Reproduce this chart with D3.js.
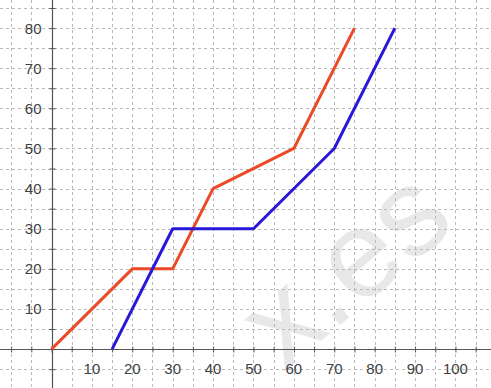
<!DOCTYPE html>
<html>
<head>
<meta charset="utf-8">
<script src="https://cdn.jsdelivr.net/npm/d3@7"></script>
<style>
  html, body { margin: 0; padding: 0; background: #fff; }
  svg { display: block; }
</style>
</head>
<body>
<svg id="chart" width="491" height="388"></svg>
<script>
// Two piecewise-linear series plotted on a Cartesian grid
const redX = [0, 20, 30, 40, 60, 75];
const redY = [0, 20, 20, 40, 50, 80];
const blueX = [15, 30, 50, 70, 85];
const blueY = [0, 30, 30, 50, 80];
const xTickLabels = [10, 20, 30, 40, 50, 60, 70, 80, 90, 100];
const yTickLabels = [10, 20, 30, 40, 50, 60, 70, 80];

const W = 491, H = 388;
const svg = d3.select("#chart");

// origin near (51.5, 349), about 4 px per unit on both axes
const x = d3.scaleLinear().domain([-12.75, 108.8]).range([0, W]);
const y = d3.scaleLinear().domain([-9.7, 87.0]).range([H, 0]);

// faint watermark, drawn beneath the grid
svg.append("text")
  .attr("transform", "translate(284,372) rotate(-40)")
  .attr("font-family", "Arial, 'Liberation Sans', sans-serif")
  .attr("font-size", 124)
  .attr("fill", "#e8e8e8")
  .text("x.es");

// grid every 5 units
const gridX = d3.range(-10, 110, 5);
const gridY = d3.range(-5, 90, 5);
const grid = svg.append("g").attr("stroke", "#b9b9b9").attr("stroke-width", 1)
  .attr("stroke-dasharray", "3,3").attr("fill", "none");
gridX.forEach(v => grid.append("line")
  .attr("x1", Math.round(x(v)) + 0.5).attr("x2", Math.round(x(v)) + 0.5)
  .attr("y1", 0).attr("y2", H));
gridY.forEach(v => grid.append("line")
  .attr("y1", Math.round(y(v)) + 0.5).attr("y2", Math.round(y(v)) + 0.5)
  .attr("x1", 0).attr("x2", W));

// axes through the origin
const x0 = Math.round(x(0)) + 0.5, y0 = Math.round(y(0)) + 0.5;
const xAxis = d3.axisBottom(x).tickValues(d3.range(-10, 110, 5)).tickSize(6).tickFormat("");
const yAxis = d3.axisLeft(y).tickValues(d3.range(-5, 90, 5)).tickSize(6).tickFormat("");

const gx = svg.append("g").attr("transform", `translate(0,${y0 - 3})`).call(xAxis);
gx.select(".domain").remove();
gx.selectAll("line").attr("stroke", "#555");
svg.append("line").attr("x1", 0).attr("x2", W).attr("y1", y0).attr("y2", y0)
  .attr("stroke", "#555").attr("stroke-width", 1.2);

const gy = svg.append("g").attr("transform", `translate(${x0 + 3},0)`).call(yAxis);
gy.select(".domain").remove();
gy.selectAll("line").attr("stroke", "#555");
svg.append("line").attr("x1", x0).attr("x2", x0).attr("y1", 0).attr("y2", H)
  .attr("stroke", "#555").attr("stroke-width", 1.2);

// tick labels
const labelFont = "Arial, 'Liberation Sans', sans-serif";
svg.append("g").selectAll("text").data(xTickLabels).join("text")
  .attr("x", d => x(d)).attr("y", y0 + 24)
  .attr("text-anchor", "middle")
  .attr("font-family", labelFont).attr("font-size", 15).attr("fill", "#404040")
  .text(d => d);
svg.append("g").selectAll("text").data(yTickLabels).join("text")
  .attr("x", x0 - 11).attr("y", d => y(d) + 5.5)
  .attr("text-anchor", "end")
  .attr("font-family", labelFont).attr("font-size", 15).attr("fill", "#404040")
  .text(d => d);

// series
const line = d3.line().x(d => x(d[0])).y(d => y(d[1]));
svg.append("path").datum(d3.zip(redX, redY))
  .attr("d", line).attr("fill", "none")
  .attr("stroke", "#ea4a26").attr("stroke-width", 3).attr("stroke-linejoin", "round");
svg.append("path").datum(d3.zip(blueX, blueY))
  .attr("d", line).attr("fill", "none")
  .attr("stroke", "#2a18d8").attr("stroke-width", 3).attr("stroke-linejoin", "round");
</script>
</body>
</html>
